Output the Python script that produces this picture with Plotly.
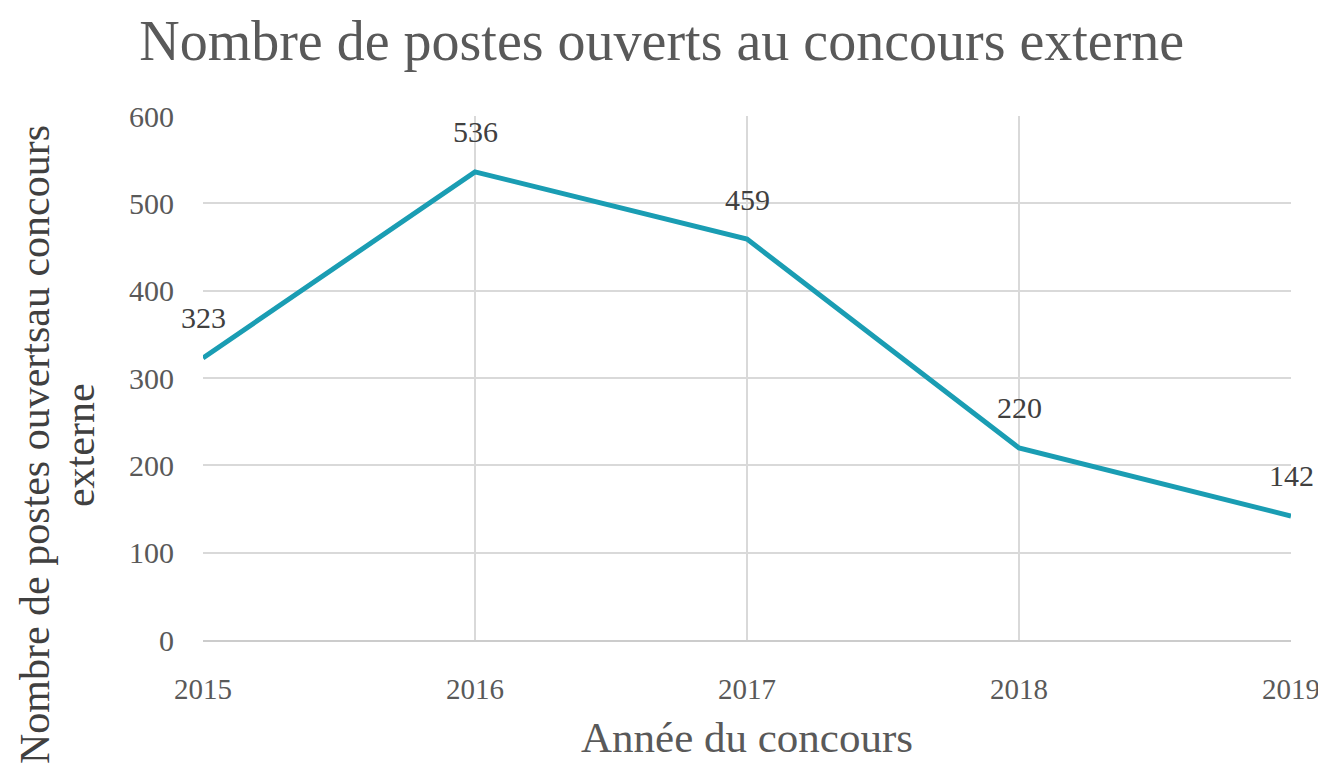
import plotly.graph_objects as go

years = [2015, 2016, 2017, 2018, 2019]
postes = [323, 536, 459, 220, 142]
y_ticks = [0, 100, 200, 300, 400, 500, 600]

title_text = "Nombre de postes ouverts au concours externe"
x_title = "Année du concours"
y_title_lines = ["Nombre de postes ouvertsau concours", "externe"]

serif = "Liberation Serif, DejaVu Serif, serif"
txt = "#595959"

fig = go.Figure()
fig.add_trace(go.Scatter(
    x=years, y=postes, mode="lines",
    line=dict(color="#1A9DB3", width=5),
    hoverinfo="skip",
))

for yr, v in zip(years, postes):
    fig.add_annotation(
        x=yr, y=v, text=str(v), showarrow=False, yshift=40,
        xanchor="center", yanchor="middle",
        font=dict(family=serif, size=30, color="#404040"),
    )

fig.update_layout(
    width=1326, height=773,
    margin=dict(l=195, r=43, t=108, b=141),
    paper_bgcolor="white", plot_bgcolor="white",
    showlegend=False,
    title=dict(text=title_text, x=0.493, xanchor="center", y=0.984, yanchor="top",
               font=dict(family=serif, size=56, color=txt)),
    xaxis=dict(
        range=[2015, 2019], tickvals=years, ticktext=[str(y) for y in years],
        showgrid=True, gridcolor="#d9d9d9", gridwidth=1.5,
        showline=True, linecolor="#cccccc", linewidth=2,
        tickfont=dict(family=serif, size=29, color=txt),
        ticks="outside", ticklen=0, ticklabelstandoff=22,
        title=dict(text=x_title, font=dict(family=serif, size=43, color=txt), standoff=18),
        zeroline=False,
    ),
    yaxis=dict(
        range=[0, 600], tickvals=y_ticks,
        showgrid=True, gridcolor="#d9d9d9", gridwidth=1.5,
        showline=False,
        tickfont=dict(family=serif, size=30, color=txt),
        ticks="outside", ticklen=0, ticklabelstandoff=22,
        zeroline=False,
    ),
)

for line, xp in zip(y_title_lines, [-0.1544, -0.1131]):
    fig.add_annotation(
        text=line, xref="paper", yref="paper", x=xp, y=0.372,
        xanchor="center", yanchor="middle", textangle=-90, showarrow=False,
        font=dict(family=serif, size=42, color="#404040"),
    )

fig.write_html("out.html")
